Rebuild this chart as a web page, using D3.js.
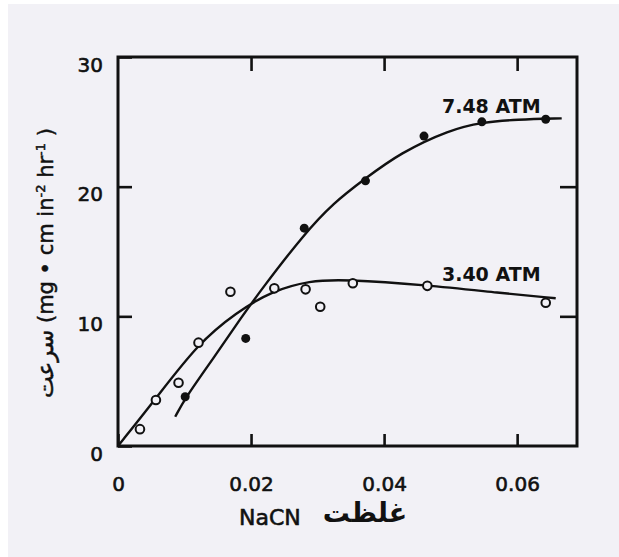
<!DOCTYPE html>
<html>
<head>
<meta charset="utf-8">
<script src="https://cdn.jsdelivr.net/npm/d3@7"></script>
<style>
  body { margin: 0; background: #fff; }
  text { font-family: "DejaVu Sans", sans-serif; fill: #111; }
</style>
</head>
<body>
<div id="plot_area"></div>
<script>
// measured points, [NaCN, rate]
const low340 = [[0.0033, 1.3], [0.0057, 3.55], [0.0091, 4.88], [0.0121, 7.97], [0.0169, 11.9],
  [0.0235, 12.16], [0.0282, 12.08], [0.0304, 10.74], [0.0353, 12.55], [0.0465, 12.35], [0.0643, 11.05]]
const high748 = [[0.0101, 3.8], [0.0192, 8.3], [0.0280, 16.8], [0.0372, 20.45], [0.0460, 23.9],
  [0.0547, 25.0], [0.0643, 25.2]]

// hand drawn fitted curves
const fit340 = [[0, 0], [0.0056, 3.6], [0.0121, 7.95], [0.0178, 10.3], [0.0231, 11.95],
  [0.0289, 12.75], [0.0339, 12.85], [0.0464, 12.42], [0.0574, 11.8], [0.0658, 11.39]]
const fit748 = [[0.0086, 2.26], [0.0101, 3.7], [0.0146, 6.95], [0.0186, 9.97], [0.0216, 12.1],
  [0.0279, 16.3], [0.0324, 18.75], [0.0371, 20.6], [0.0424, 22.6], [0.0499, 24.4],
  [0.0547, 24.96], [0.0599, 25.18], [0.0667, 25.27]]

const xTicks = [0, 0.02, 0.04, 0.06]
const yTicks = [0, 10, 20, 30]
const curveLabels = [{ text: '7.48 ATM', x: 0.0487, y: 25.7 }, { text: '3.40 ATM', x: 0.0487, y: 12.7 }]

const svgWidth = 619,
  svgHeight = 557,
  plot = { left: 118, right: 577, top: 57, bottom: 446 }

const svg = d3.select('#plot_area').append('svg')
  .attr('width', svgWidth)
  .attr('height', svgHeight)

// scanned page tone
svg.append('rect')
  .attr('x', 8).attr('y', 4)
  .attr('width', svgWidth - 8).attr('height', svgHeight - 4)
  .attr('fill', '#f2f1f6')

const x = d3.scaleLinear().domain([0, 0.069]).range([plot.left, plot.right])
const y = d3.scaleLinear().domain([0, 30]).range([plot.bottom, plot.top])

const fmt = d => d === 0 ? '0' : d.toFixed(2)

// axes, ticks point inward
const bottomAxis = svg.append('g')
  .attr('transform', `translate(0, ${plot.bottom})`)
  .call(d3.axisBottom(x).tickValues(xTicks).tickFormat(fmt).tickSize(-12).tickSizeOuter(0).tickPadding(31))
const topAxis = svg.append('g')
  .attr('transform', `translate(0, ${plot.top})`)
  .call(d3.axisTop(x).tickValues(xTicks.slice(1)).tickFormat('').tickSize(-14).tickSizeOuter(0))
const leftAxis = svg.append('g')
  .attr('transform', `translate(${plot.left}, 0)`)
  .call(d3.axisLeft(y).tickValues(yTicks).tickSize(-14).tickSizeOuter(0).tickPadding(15))
const rightAxis = svg.append('g')
  .attr('transform', `translate(${plot.right}, 0)`)
  .call(d3.axisRight(y).tickValues([10, 20]).tickFormat('').tickSize(-17).tickSizeOuter(0))

;[bottomAxis, topAxis, leftAxis, rightAxis].forEach(g => {
  g.select('.domain').remove()
  g.selectAll('line').attr('stroke', '#111').attr('stroke-width', 2.6)
  g.selectAll('text').attr('font-size', 20).attr('fill', '#111')
    .attr('stroke', '#111').attr('stroke-width', 0.6)
    .style('font-family', '"DejaVu Sans", sans-serif')
})
leftAxis.selectAll('text').attr('dy', '0.9em').attr('y', -4)

svg.append('rect')
  .attr('x', plot.left).attr('y', plot.top)
  .attr('width', plot.right - plot.left).attr('height', plot.bottom - plot.top)
  .attr('fill', 'none').attr('stroke', '#111').attr('stroke-width', 3)

const line = d3.line()
  .x(d => x(d[0]))
  .y(d => y(d[1]))
  .curve(d3.curveBasis)

svg.append('path').datum(fit340)
  .attr('d', line).attr('fill', 'none').attr('stroke', '#111').attr('stroke-width', 2.4)
svg.append('path').datum(fit748)
  .attr('d', line).attr('fill', 'none').attr('stroke', '#111').attr('stroke-width', 2.4)

svg.append('g').selectAll('circle')
  .data(low340)
  .enter()
  .append('circle')
  .attr('cx', d => x(d[0]))
  .attr('cy', d => y(d[1]))
  .attr('r', 4.3)
  .attr('fill', '#f2f1f6')
  .attr('stroke', '#111')
  .attr('stroke-width', 2)

svg.append('g').selectAll('circle')
  .data(high748)
  .enter()
  .append('circle')
  .attr('cx', d => x(d[0]))
  .attr('cy', d => y(d[1]))
  .attr('r', 4.5)
  .attr('fill', '#111')

svg.append('g').selectAll('text')
  .data(curveLabels)
  .enter()
  .append('text')
  .attr('x', d => x(d.x))
  .attr('y', d => y(d.y))
  .attr('font-size', 19)
  .attr('font-weight', 'bold')
  .text(d => d.text)

// x title: NaCN + Persian word for concentration
svg.append('text')
  .attr('x', 239).attr('y', 525)
  .attr('font-size', 22)
  .attr('stroke', '#111').attr('stroke-width', 0.6)
  .text('NaCN')
svg.append('text')
  .attr('x', 365).attr('y', 522)
  .attr('font-size', 27)
  .attr('font-weight', 'bold')
  .attr('text-anchor', 'middle')
  .text('غلظت')

// y title, reads bottom to top
const yTitle = svg.append('text')
  .attr('transform', 'translate(53, 398) rotate(-90)')
  .attr('font-size', 21)
  .attr('stroke', '#111').attr('stroke-width', 0.5)
yTitle.append('tspan').attr('font-size', 23).text('سرعت')
yTitle.append('tspan').text(' (mg • cm in')
yTitle.append('tspan').attr('font-size', 13).attr('dy', -8).text('-2')
yTitle.append('tspan').attr('dy', 8).text(' hr')
yTitle.append('tspan').attr('font-size', 13).attr('dy', -8).text('-1')
yTitle.append('tspan').attr('dy', 8).text(' )')
</script>
</body>
</html>
